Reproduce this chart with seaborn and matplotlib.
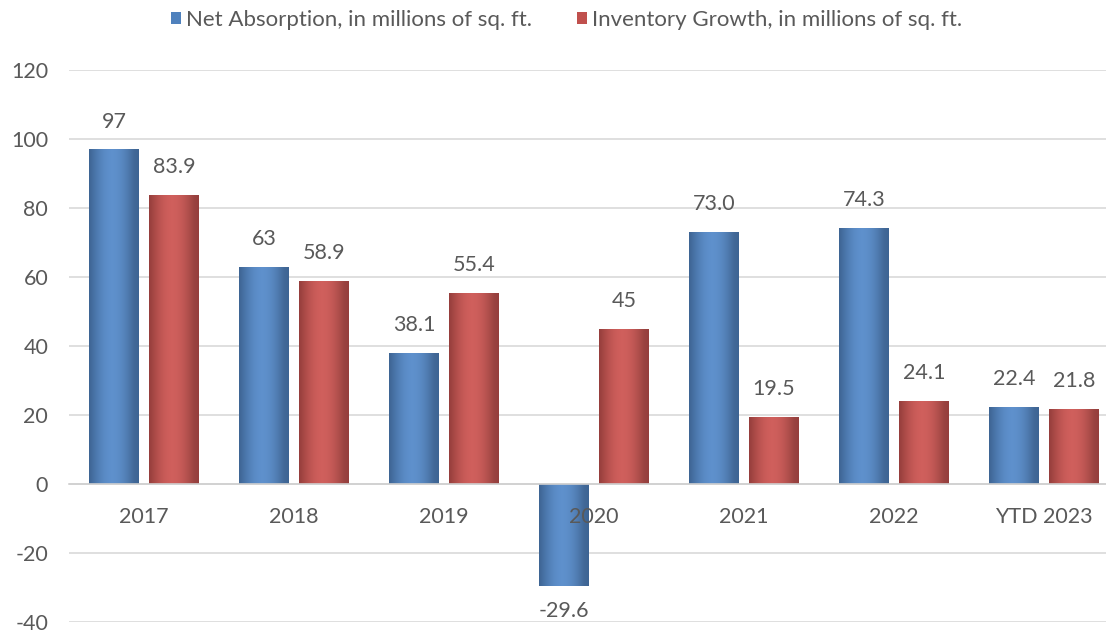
import numpy as np
import pandas as pd
import matplotlib
matplotlib.use("Agg")
import matplotlib.pyplot as plt
import seaborn as sns

categories = ["2017", "2018", "2019", "2020", "2021", "2022", "YTD 2023"]
net_absorption = [97, 63, 38.1, -29.6, 73.0, 74.3, 22.4]
inventory_growth = [83.9, 58.9, 55.4, 45, 19.5, 24.1, 21.8]
net_labels = ["97", "63", "38.1", "-29.6", "73.0", "74.3", "22.4"]
inv_labels = ["83.9", "58.9", "55.4", "45", "19.5", "24.1", "21.8"]
series_names = ["Net Absorption, in millions of sq. ft.",
                "Inventory Growth, in millions of sq. ft."]
y_ticks = [-40, -20, 0, 20, 40, 60, 80, 100, 120]

df = pd.DataFrame({
    "cat": categories * 2,
    "val": net_absorption + inventory_growth,
    "series": [series_names[0]] * 7 + [series_names[1]] * 7,
})

sns.set_theme(style="white")
plt.rcParams["font.family"] = ["Lato", "DejaVu Sans"]
txt = "#595959"
colors = ["#4F81BD", "#C0504D"]
fs = 15.5

fig = plt.figure(figsize=(11.06, 6.32), dpi=100)
ax = fig.add_axes([69 / 1106, 1 - 622 / 632, 1050 / 1106, 552 / 632])

sns.barplot(data=df, x="cat", y="val", hue="series", palette=colors,
            width=0.8, gap=0.18, ax=ax, legend=True, saturation=1,
            linewidth=0)

ax.set_ylim(-40, 120)
ax.set_xlim(-0.5, 6.5)
ax.set_yticks(y_ticks)
ax.set_yticklabels([str(t) for t in y_ticks])
ax.yaxis.grid(True, color="#D9D9D9", linewidth=1.2)
ax.set_axisbelow(True)
for s in ["left", "right", "top"]:
    ax.spines[s].set_visible(False)
ax.spines["bottom"].set_position(("data", 0))
ax.spines["bottom"].set_color("#D0D0D0")
ax.spines["bottom"].set_linewidth(1.2)
ax.tick_params(axis="x", length=0, labelbottom=False)
ax.tick_params(axis="y", length=0, pad=15, labelsize=fs, labelcolor=txt)
ax.set_xlabel("")
ax.set_ylabel("")

# category labels drawn on top of bars at the zero line
for i, c in enumerate(categories):
    ax.annotate(c, (i, 0), xytext=(0, -24), textcoords="offset points",
                ha="center", va="center", fontsize=fs, color=txt, zorder=10)

# gradient shading on bars
grad = np.linspace(0, 1, 64)
shade = 0.78 + 0.22 * np.sin(np.pi * np.clip(grad * 1.1, 0, 1))
for cont, col in zip(ax.containers, colors):
    base = np.array(matplotlib.colors.to_rgb(col))
    img = np.clip(base[None, None, :] * shade[None, :, None]
                  + 0.06 * np.sin(np.pi * grad)[None, :, None], 0, 1)
    for p in cont.patches:
        x0, y0 = p.get_x(), p.get_y()
        w, h = p.get_width(), p.get_height()
        im = ax.imshow(img, extent=[x0, x0 + w, min(y0, y0 + h), max(y0, y0 + h)],
                       aspect="auto", zorder=p.get_zorder() + 0.1,
                       interpolation="bilinear")
        im.set_clip_path(p)

# data labels
for cont, labels in zip(ax.containers, [net_labels, inv_labels]):
    for p, lab in zip(cont.patches, labels):
        xc = p.get_x() + p.get_width() / 2
        top = p.get_y() + p.get_height()
        off = 20 if p.get_height() >= 0 else -18
        ax.annotate(lab, (xc, top), xytext=(0, off), textcoords="offset points",
                    ha="center", va="center", fontsize=fs, color=txt, zorder=10)

leg = ax.legend(handles=ax.get_legend().legend_handles, labels=series_names,
                loc="upper center", bbox_to_anchor=(0.474, 1.145), ncol=2,
                frameon=False, fontsize=16, handlelength=0.45, handleheight=0.45,
                handletextpad=0.25, columnspacing=2.0, labelcolor=txt)
ax.set_xlim(-0.5, 6.5)
fig.savefig("out.png", dpi=100)
